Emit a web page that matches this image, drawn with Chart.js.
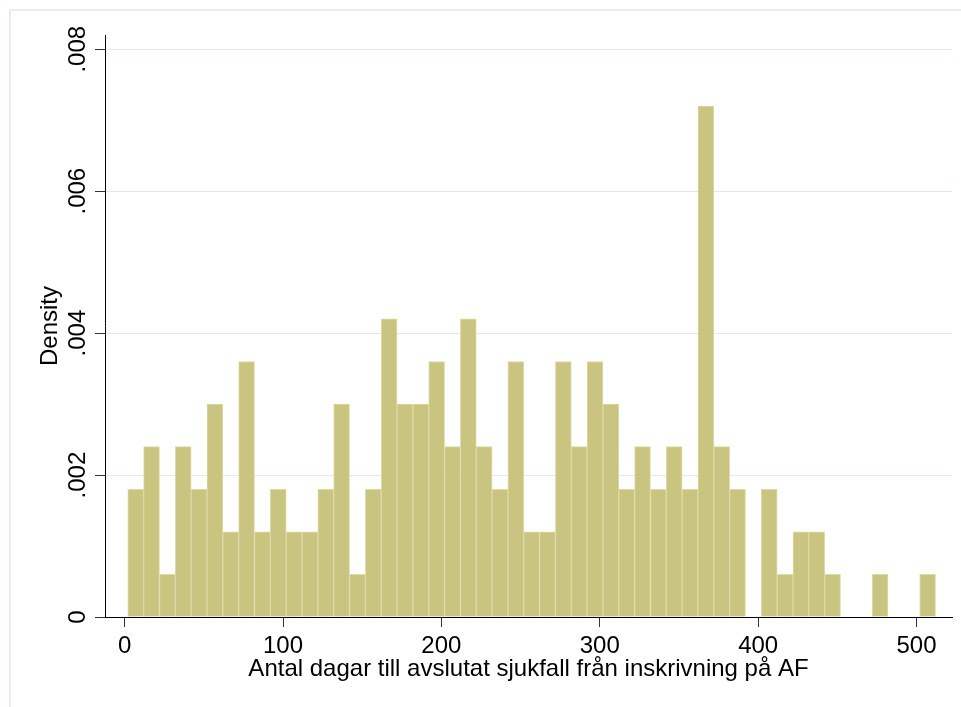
<!DOCTYPE html>
<html>
<head>
<meta charset="utf-8">
<script src="https://cdn.jsdelivr.net/npm/chart.js@4.4.1/dist/chart.umd.min.js"></script>
<style>
  html, body { margin: 0; padding: 0; background: #ffffff; }
  #wrap { width: 961px; height: 707px; position: relative; }
</style>
</head>
<body>
<div id="wrap"><canvas id="c" width="961" height="707"></canvas></div>
<script>
// Bin midpoints (days) and histogram densities
const binCenters = [7, 17, 27, 37, 47, 57, 67, 77, 87, 97,
                    107, 117, 127, 137, 147, 157, 167, 177, 187, 197,
                    207, 217, 227, 237, 247, 257, 267, 277, 287, 297,
                    307, 317, 327, 337, 347, 357, 367, 377, 387, 397,
                    407, 417, 427, 437, 447, 457, 467, 477, 487, 497, 507];
const densities = [0.0018, 0.0024, 0.0006, 0.0024, 0.0018, 0.0030, 0.0012, 0.0036, 0.0012, 0.0018,
                   0.0012, 0.0012, 0.0018, 0.0030, 0.0006, 0.0018, 0.0042, 0.0030, 0.0030, 0.0036,
                   0.0024, 0.0042, 0.0024, 0.0018, 0.0036, 0.0012, 0.0012, 0.0036, 0.0024, 0.0036,
                   0.0030, 0.0018, 0.0024, 0.0018, 0.0024, 0.0018, 0.0072, 0.0024, 0.0018, 0,
                   0.0018, 0.0006, 0.0012, 0.0012, 0.0006, 0, 0, 0.0006, 0, 0, 0.0006];
const xTicks = [0, 100, 200, 300, 400, 500];
const yTicks = [0, 0.002, 0.004, 0.006, 0.008];
const xTitle = 'Antal dagar till avslutat sjukfall från inskrivning på AF';
const yTitle = 'Density';

const FONT = "'Liberation Sans', Arial, Helvetica, sans-serif";

const framePlugin = {
  id: 'frame',
  beforeDraw(chart) {
    const ctx = chart.ctx;
    ctx.save();
    ctx.strokeStyle = '#e8eef0';
    ctx.lineWidth = 2;
    ctx.beginPath();
    ctx.moveTo(10, chart.height);
    ctx.lineTo(10, 10);
    ctx.lineTo(chart.width, 10);
    ctx.stroke();
    ctx.restore();
  }
};

new Chart(document.getElementById('c'), {
  type: 'bar',
  data: {
    datasets: [{
      data: binCenters.map((x, i) => ({ x: x, y: densities[i] === 0 ? null : densities[i] })),
      backgroundColor: '#c9c47f',
      borderColor: '#dedaa9',
      borderWidth: 1,
      borderSkipped: 'start',
      barPercentage: 1.0,
      categoryPercentage: 1.0
    }]
  },
  options: {
    responsive: false,
    animation: false,
    events: [],
    layout: { padding: { left: 36, top: 35, right: 9, bottom: 23 } },
    plugins: { legend: { display: false }, tooltip: { enabled: false } },
    scales: {
      x: {
        type: 'linear',
        min: -12.4,
        max: 522.4,
        offset: false,
        border: { display: true, color: '#000000', width: 1 },
        grid: { display: true, drawOnChartArea: false, drawTicks: true, tickLength: 10, tickColor: '#333333', offset: false },
        afterBuildTicks: s => { s.ticks = xTicks.map(v => ({ value: v })); },
        ticks: {
          autoSkip: false, maxRotation: 0, minRotation: 0, padding: 5,
          color: '#000000', font: { family: FONT, size: 24 },
          callback: v => String(v)
        },
        title: { display: true, text: xTitle, color: '#000000', font: { family: FONT, size: 24 }, padding: 0 },
        afterFit: s => { s.height = 67; }
      },
      y: {
        type: 'linear',
        min: 0,
        max: 0.0082,
        border: { display: true, color: '#000000', width: 1 },
        grid: {
          display: true, drawTicks: true, tickLength: 10, tickColor: '#333333',
          color: c => (c.tick && c.tick.value === 0) ? 'rgba(0,0,0,0)' : '#e0ebef',
          lineWidth: 1
        },
        afterBuildTicks: s => { s.ticks = yTicks.map(v => ({ value: v })); },
        ticks: {
          autoSkip: false, minRotation: 90, maxRotation: 90, crossAlign: 'center', padding: -7,
          color: '#000000', font: { family: FONT, size: 24 },
          callback: v => v === 0 ? '0' : v.toFixed(3).replace(/^0/, '')
        },
        title: { display: true, text: yTitle, color: '#000000', font: { family: FONT, size: 24 }, padding: 0 },
        afterFit: s => { s.width = 69; }
      }
    }
  },
  plugins: [framePlugin]
});
</script>
</body>
</html>
